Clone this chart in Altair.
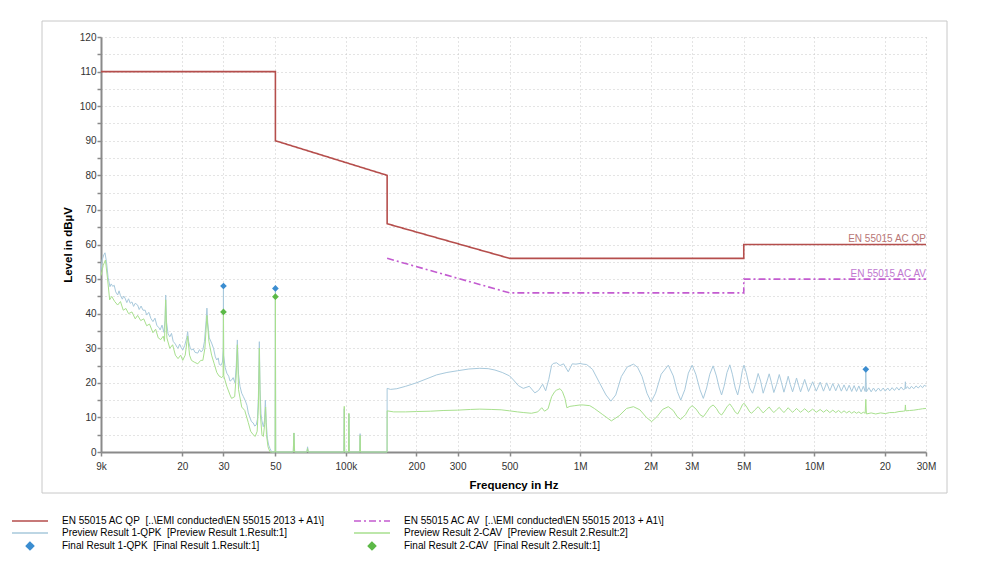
import altair as alt
import pandas as pd

# ---------------- data ----------------
qp_freq_hz = [9e3, 50e3, 50e3, 150e3, 150e3, 500e3, 5e6, 5e6, 30e6]
qp_level = [110, 110, 90, 80, 66, 56, 56, 60, 60]
av_freq_hz = [150e3, 500e3, 5e6, 5e6, 30e6]
av_level = [56, 46, 46, 50, 50]

qpk_freq_khz = [
    9.0, 9.1, 9.25, 9.36, 9.5, 9.65, 9.83, 9.95, 10.1, 10.25, 10.4, 10.6, 10.75, 10.9, 11.1, 11.25,
    11.4, 11.6, 11.8, 12.0, 12.2, 12.4, 12.6, 12.9, 13.1, 13.35, 13.6, 13.9, 14.1, 14.4, 14.7, 15.0,
    15.3, 15.6, 15.9, 16.1, 16.4, 16.7, 16.9, 17.0, 17.15, 17.4, 17.7, 18.0, 18.3, 18.7, 19.0, 19.2,
    19.5, 19.8, 20.1, 20.5, 20.9, 21.1, 21.3, 21.6, 21.9, 22.3, 22.7, 23.3, 23.7, 24.1, 24.5, 24.9,
    25.3, 25.5, 25.7, 26.1, 26.7, 27.2, 27.7, 28.1, 28.5, 28.8, 29.3, 29.7, 29.95, 30.0, 30.05, 30.5,
    31.0, 31.6, 32.0, 32.5, 33.0, 33.6, 34.0, 34.4, 34.8, 35.3, 35.9, 36.5, 37.2, 37.8, 38.3, 38.9,
    39.5, 40.2, 40.8, 41.4, 41.9, 42.3, 42.7, 43.0, 43.4, 43.8, 44.4, 44.9, 45.3, 45.7, 46.2, 46.8,
    47.4, 48.2, 49.85, 50.0, 50.15, 59.6, 60.0, 60.4, 68.1, 68.6, 69.1, 98.0, 98.4, 98.8, 102.6, 103.0,
    103.4, 114.6, 115.0, 115.4, 149.9, 150.0, 155, 165, 180, 200, 222, 244, 270, 300, 335, 373,
    405, 433, 465, 500, 520, 545, 572, 607, 641, 665, 692, 713, 735, 756, 768, 794,
    821, 850, 890, 926, 960, 1000, 1030, 1066, 1130, 1215, 1290, 1354, 1420, 1500, 1590, 1690,
    1760, 1840, 1930, 2010, 2100, 2220, 2380, 2500, 2600, 2690, 2800, 2900, 3010, 3120, 3250, 3360,
    3470, 3580, 3700, 3820, 3930, 4020, 4120, 4240, 4360, 4470, 4600, 4710, 4820, 4930, 5010, 5120,
    5300, 5450, 5600, 5760, 5900, 6050, 6220, 6420, 6570, 6720, 6900, 7090, 7250, 7420, 7580, 7740,
    7900, 8080, 8240, 8400, 8570, 8740, 8920, 9100, 9450, 9840, 10200, 10600, 10950, 11300, 11650, 12000,
    12350, 12700, 13050, 13400, 13750, 14100, 14450, 14800, 15150, 15500, 15850, 16200, 16500, 16600, 16700, 17100,
    17500, 17900, 18300, 18800, 19200, 19700, 20100, 20600, 21000, 21500, 22000, 22500, 23000, 23500, 24000, 24400,
    24500, 24600, 25000, 25500, 26000, 26600, 27200, 27800, 28400, 29000, 29500, 30000,
]
qpk_level = [
    52.5, 55.5, 57.0, 57.6, 55.0, 50.5, 47.8, 48.6, 47.9, 48.2, 46.3, 45.4, 46.6, 45.2, 44.2, 45.1,
    44.5, 43.2, 44.3, 43.0, 43.4, 42.1, 43.0, 42.5, 41.2, 42.2, 41.0, 41.0, 39.6, 40.4, 38.6, 37.7,
    38.7, 36.5, 36.0, 35.3, 36.7, 34.6, 38.0, 45.4, 37.5, 34.2, 33.3, 34.3, 32.0, 31.2, 30.3, 30.0,
    31.2, 30.2, 29.5, 30.8, 33.0, 34.8, 32.0, 30.3, 29.5, 29.8, 28.8, 28.6, 29.6, 28.9, 29.5, 32.0,
    38.0, 41.6, 37.5, 33.0, 31.5, 30.0, 27.5, 26.6, 27.2, 25.3, 25.1, 26.0, 30.0, 47.8, 28.0, 24.5,
    22.8, 21.9, 20.5, 20.8, 21.5, 20.0, 24.5, 32.4, 22.5, 19.0, 17.0, 16.0, 14.8, 13.5, 11.3, 10.0,
    8.8, 8.4, 7.5, 7.8, 9.5, 16.0, 31.9, 18.0, 11.0, 9.0, 7.3, 9.0, 15.0, 8.5, 4.0, 2.0,
    1.0, 0.0, 0.0, 46.5, 0.0, 0.0, 5.5, 0.0, 0.0, 1.5, 0.0, 0.0, 12.5, 0.0, 0.0, 11.0,
    0.0, 0.0, 5.3, 0.0, 0.0, 18.4, 18.1, 18.3, 19.0, 20.0, 21.2, 22.3, 23.0, 23.5, 24.0, 24.2,
    24.1, 23.7, 23.0, 22.0, 20.8, 19.2, 18.4, 19.0, 17.1, 17.8, 19.6, 17.7, 21.0, 25.1, 25.6, 25.8,
    25.0, 25.5, 23.2, 25.5, 25.4, 25.6, 25.4, 25.3, 23.9, 19.8, 16.5, 14.7, 16.5, 21.8, 24.6, 25.4,
    24.5, 21.8, 17.0, 14.5, 17.0, 22.5, 25.1, 22.0, 17.5, 15.0, 18.0, 22.8, 25.1, 22.5, 18.0, 15.5,
    18.5, 22.5, 24.9, 22.0, 18.5, 16.5, 19.0, 23.0, 25.2, 22.5, 18.5, 16.5, 19.5, 23.5, 25.1, 23.0,
    18.5, 17.0, 19.5, 22.7, 20.5, 17.0, 19.5, 22.6, 20.0, 17.2, 19.5, 22.4, 20.0, 17.3, 19.5, 21.9,
    19.5, 17.4, 19.3, 21.4, 19.3, 17.4, 19.2, 21.0, 17.5, 20.3, 17.6, 20.2, 17.6, 20.0, 17.7, 19.8,
    17.7, 19.6, 17.6, 19.4, 17.6, 19.3, 17.5, 19.2, 17.5, 19.1, 17.4, 19.0, 17.5, 23.9, 17.4, 18.6,
    17.4, 18.5, 17.5, 18.5, 17.6, 18.5, 17.6, 18.5, 17.7, 18.6, 17.8, 18.7, 17.9, 18.8, 18.0, 18.3,
    20.3, 18.3, 18.9, 18.2, 19.0, 18.3, 19.1, 18.5, 19.2, 18.6, 19.3, 19.0,
]

cav_freq_khz = [
    9.0, 9.2, 9.4, 9.6, 9.8, 10.0, 10.3, 10.6, 10.9, 11.2, 11.5, 11.8, 12.2, 12.6, 12.9, 13.3,
    13.7, 14.1, 14.5, 15.0, 15.4, 15.8, 16.2, 16.6, 16.8, 17.0, 17.2, 17.7, 18.2, 18.7, 19.2, 19.7,
    20.1, 20.6, 21.1, 21.5, 21.9, 22.5, 23.3, 24.0, 24.5, 25.0, 25.5, 26.0, 26.7, 27.4, 28.1, 28.7,
    29.5, 29.9, 30.0, 30.1, 31.0, 32.0, 32.5, 33.5, 34.0, 34.4, 34.8, 35.9, 37.0, 38.3, 39.2, 40.2,
    41.0, 41.8, 42.3, 42.7, 43.1, 43.8, 44.4, 45.0, 45.4, 45.8, 46.5, 47.4, 49.85, 50.0, 50.15, 59.6,
    60.0, 60.4, 68.1, 68.6, 69.1, 98.0, 98.4, 98.8, 102.6, 103.0, 103.4, 114.6, 115.0, 115.4, 149.9, 150.0,
    160, 180, 200, 230, 260, 300, 340, 373, 420, 460, 500, 540, 575, 620, 660, 686,
    705, 730, 756, 780, 794, 821, 840, 862, 878, 905, 950, 1000, 1030, 1100, 1150, 1250,
    1360, 1470, 1580, 1690, 1800, 1920, 2020, 2130, 2250, 2380, 2500, 2600, 2690, 2820, 2920, 3010,
    3130, 3250, 3360, 3470, 3580, 3700, 3820, 3930, 4020, 4130, 4250, 4360, 4480, 4600, 4710, 4830,
    4930, 5010, 5150, 5300, 5400, 5580, 5760, 5900, 6050, 6240, 6420, 6570, 6720, 6900, 7090, 7250,
    7420, 7580, 7740, 7900, 8080, 8240, 8400, 8570, 8740, 8920, 9100, 9450, 9840, 10200, 10600, 10950,
    11300, 11650, 12000, 12350, 12700, 13050, 13400, 13750, 14100, 14450, 14800, 15150, 15500, 15850, 16200, 16500,
    16600, 16700, 17500, 18300, 19200, 20100, 21000, 22000, 23000, 24000, 24400, 24500, 24600, 25500, 26600, 27800,
    29000, 30000,
]
cav_level = [
    51.0, 54.0, 55.5, 50.0, 44.0, 45.0, 43.5, 42.5, 43.5, 41.0, 41.5, 40.0, 40.5, 38.5, 39.5, 38.0,
    38.5, 36.5, 37.0, 34.5, 35.5, 33.0, 32.5, 33.5, 32.0, 44.0, 33.0, 30.0, 31.0, 28.0, 27.0, 28.0,
    26.5, 28.0, 33.5, 28.0, 26.5, 26.0, 25.5, 26.5, 26.5, 30.0, 39.5, 32.0, 28.0, 25.5, 23.0, 22.0,
    21.5, 22.0, 40.5, 22.0, 19.0, 16.5, 15.5, 16.0, 22.0, 31.0, 18.0, 13.0, 12.0, 8.5, 6.0, 5.0,
    4.5, 6.0, 13.0, 30.0, 11.0, 5.0, 4.5, 8.0, 13.0, 5.0, 1.5, 0.0, 0.0, 44.9, 0.0, 0.0,
    5.5, 0.0, 0.0, 1.0, 0.0, 0.0, 13.2, 0.0, 0.0, 11.2, 0.0, 0.0, 4.8, 0.0, 0.0, 11.9,
    11.6, 11.6, 11.7, 11.8, 12.0, 12.1, 12.3, 12.4, 12.3, 12.2, 11.9, 11.6, 11.4, 11.2, 11.6, 12.8,
    11.8, 12.5, 16.0, 17.5, 17.9, 18.3, 17.5, 15.5, 12.8, 13.2, 13.4, 13.6, 13.6, 13.4, 12.6, 10.8,
    9.0, 10.5, 12.6, 13.1, 12.2, 10.0, 8.8, 10.2, 12.3, 13.1, 12.0, 10.2, 9.4, 10.8, 12.6, 13.4,
    12.4, 10.8, 10.2, 11.5, 12.9, 13.6, 12.6, 11.2, 10.7, 11.8, 13.2, 13.9, 12.8, 11.5, 11.0, 12.3,
    13.6, 14.1, 13.0, 11.6, 11.2, 12.2, 13.1, 12.2, 11.3, 12.2, 13.0, 12.1, 11.4, 12.2, 12.9, 12.1,
    11.4, 12.1, 12.8, 12.1, 11.5, 12.0, 12.6, 12.0, 11.5, 12.0, 12.5, 11.5, 12.4, 11.5, 12.3, 11.5,
    12.2, 11.4, 12.1, 11.4, 12.0, 11.3, 11.9, 11.3, 11.8, 11.2, 11.7, 11.2, 11.6, 11.1, 11.5, 11.2,
    15.2, 11.0, 11.3, 11.0, 11.3, 11.1, 11.4, 11.4, 11.7, 11.8, 11.9, 13.6, 11.9, 12.0, 12.1, 12.3,
    12.5, 12.6,
]

final_qpk_freq_hz = [30e3, 50e3, 16.6e6]
final_qpk_level = [48.0, 47.3, 23.9]
final_cav_freq_hz = [30e3, 50e3]
final_cav_level = [40.5, 44.9]

x_tick_values = [9e3, 2e4, 3e4, 5e4, 1e5, 2e5, 3e5, 5e5, 1e6, 2e6, 3e6, 5e6, 1e7, 2e7, 3e7]
x_tick_labels = ["9k", "20", "30", "50", "100k", "200", "300", "500", "1M", "2M", "3M", "5M", "10M", "20", "30M"]
y_tick_values = list(range(0, 121, 5))

# legend order (filled column by column): QP, Preview 1, Final 1 | AV, Preview 2, Final 2
NAME_QP = "EN 55015 AC QP\u00a0 [..\\EMI conducted\\EN 55015 2013 + A1\\]"
NAME_AV = "EN 55015 AC AV\u00a0 [..\\EMI conducted\\EN 55015 2013 + A1\\]"
NAME_PQPK = "Preview Result 1-QPK\u00a0 [Preview Result 1.Result:1]"
NAME_PCAV = "Preview Result 2-CAV\u00a0 [Preview Result 2.Result:2]"
NAME_FQPK = "Final Result 1-QPK\u00a0 [Final Result 1.Result:1]"
NAME_FCAV = "Final Result 2-CAV\u00a0 [Final Result 2.Result:1]"
series_names = [NAME_QP, NAME_PQPK, NAME_FQPK, NAME_AV, NAME_PCAV, NAME_FCAV]
series_colors = ["#b54e4c", "#a8c9dc", "#3b8dd0", "#c35bd0", "#a8e08e", "#5cb947"]
series_dashes = [[1, 0], [1, 0], [1, 0], [7, 3, 2, 3], [1, 0], [1, 0]]
LINE_SYM = "M-1,0H6.2"
DIAMOND_SYM = "M2.6,-0.75L3.35,0L2.6,0.75L1.85,0Z"
legend_shapes = [LINE_SYM, LINE_SYM, DIAMOND_SYM, LINE_SYM, LINE_SYM, DIAMOND_SYM]


def frame(name, f, v, mult=1.0):
    return pd.DataFrame({
        "series": name,
        "freq": [x * mult for x in f],
        "level": v,
        "idx": list(range(len(f))),
    })


limits = pd.concat([
    frame(NAME_QP, qp_freq_hz, qp_level),
    frame(NAME_AV, av_freq_hz, av_level),
])
previews = pd.concat([
    frame(NAME_PQPK, qpk_freq_khz, qpk_level, 1e3),
    frame(NAME_PCAV, cav_freq_khz, cav_level, 1e3),
])
finals = pd.concat([
    frame(NAME_FQPK, final_qpk_freq_hz, final_qpk_level),
    frame(NAME_FCAV, final_cav_freq_hz, final_cav_level),
])

FONT = "Liberation Sans"

x_label_expr = "[" + ",".join("'%s'" % l for l in x_tick_labels) + "][indexof([" + \
    ",".join(str(int(v)) for v in x_tick_values) + "], datum.value)]"

x_axis = alt.Axis(
    values=x_tick_values, labelExpr=x_label_expr, title="Frequency in Hz",
    titleFont=FONT, titleFontSize=11.5, titleFontWeight="bold", titleColor="#000000", titlePadding=8,
    labelFont=FONT, labelFontSize=10, labelColor="#333333", labelPadding=5, labelFlush=False,
    labelOverlap=False, tickSize=4, tickColor="#8a8a8a", tickWidth=1.5,
    domainColor="#8a8a8a", domainWidth=2, grid=True, gridColor="#c8c8c8", gridDash=[1, 3],
)
y_axis = alt.Axis(
    values=y_tick_values, labelExpr="datum.value % 10 == 0 ? datum.label : ''", title="Level in dBµV",
    titleFont=FONT, titleFontSize=11.5, titleFontWeight="bold", titleColor="#000000", titlePadding=6,
    labelFont=FONT, labelFontSize=10, labelColor="#333333", labelPadding=1,
    tickSize=4, tickColor="#8a8a8a", tickWidth=1.5,
    domainColor="#8a8a8a", domainWidth=2, grid=True, gridColor="#c8c8c8", gridDash=[1, 3],
)

x_enc = alt.X("freq:Q", scale=alt.Scale(type="log", domain=[9e3, 30e6], nice=False), axis=x_axis)
y_enc = alt.Y("level:Q", scale=alt.Scale(domain=[0, 120], nice=False), axis=y_axis)

legend_def = alt.Legend(
    title=None, orient="none", legendX=-90, legendY=478, columns=2, columnPadding=25, rowPadding=1,
    padding=0, labelFont=FONT, labelFontSize=10, labelColor="#000000", labelOffset=39, labelLimit=0,
    symbolSize=100, symbolStrokeWidth=1.5, symbolOpacity=1,
)

color_scale = alt.Scale(domain=series_names, range=series_colors)
color_enc = alt.Color("series:N", scale=color_scale, legend=legend_def)

limit_layer = alt.Chart(limits).mark_line(strokeWidth=1.6).encode(
    x=x_enc, y=y_enc, color=color_enc,
    strokeDash=alt.StrokeDash("series:N", scale=alt.Scale(domain=series_names, range=series_dashes), legend=legend_def),
    order="idx:Q",
)
preview_layer = alt.Chart(previews).mark_line(strokeWidth=1).encode(
    x=x_enc, y=y_enc, color=color_enc, order="idx:Q",
)
final_layer = alt.Chart(finals).mark_point(shape="diamond", filled=True, size=45, opacity=1).encode(
    x=x_enc, y=y_enc, color=color_enc,
)
legend_shape_layer = alt.Chart(finals).transform_filter("false").mark_point(filled=True, opacity=1).encode(
    color=color_enc,
    shape=alt.Shape("series:N", scale=alt.Scale(domain=series_names, range=legend_shapes), legend=legend_def),
)

qp_text = alt.Chart(pd.DataFrame({"freq": [30e6], "level": [60], "t": ["EN 55015 AC QP"]})).mark_text(
    align="right", baseline="alphabetic", dy=-3, font=FONT, fontSize=10, color="#b87575"
).encode(x=x_enc, y=y_enc, text="t:N")
av_text = alt.Chart(pd.DataFrame({"freq": [30e6], "level": [50], "t": ["EN 55015 AC AV"]})).mark_text(
    align="right", baseline="alphabetic", dy=-2, font=FONT, fontSize=10, color="#c077d0"
).encode(x=x_enc, y=y_enc, text="t:N")

border = alt.Chart(alt.Data(values=[{"a": 1}])).mark_rect(
    fillOpacity=0, stroke="#c8c8c8", strokeWidth=1
).encode(x=alt.value(-59), x2=alt.value(846), y=alt.value(-16), y2=alt.value(456))

chart = alt.layer(
    preview_layer, limit_layer, final_layer, legend_shape_layer, qp_text, av_text, border
).properties(
    width=825, height=415,
    autosize=alt.AutoSizeParams(type="none"),
    padding={"left": 93, "top": 29, "right": 40, "bottom": 103},
    background="#ffffff",
).configure_view(strokeWidth=0)

chart.save("out.html", embed_options={"renderer": "svg", "actions": False})
